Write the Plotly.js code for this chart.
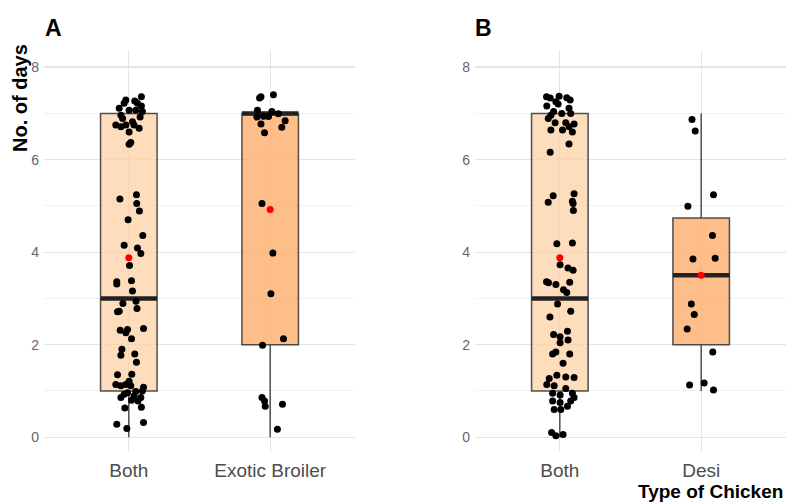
<!DOCTYPE html>
<html>
<head>
<meta charset="utf-8">
<script src="https://cdn.plot.ly/plotly-3.0.1.min.js"></script>
<style>html,body{margin:0;padding:0;background:#fff;}#chart{width:787px;height:504px;}</style>
</head>
<body>
<div id="chart"></div>
<script>
// ---------- DATA ----------
const catsA = ["Both", "Exotic Broiler"];
const catsB = ["Both", "Desi"];

// box statistics per category
const q1A = [1, 2], medA = [3, 7], q3A = [7, 7], loA = [0, 0], hiA = [7, 7], meanA = [3.88, 4.92];
const q1B = [1, 2], medB = [3, 3.5], q3B = [7, 4.74], loB = [0, 1], hiB = [7, 7], meanB = [3.88, 3.5];

const aBothY = [7.36,7.29,7.27,7.22,7.22,7.16,7.11,7.07,7.07,7.04,6.96,6.92,6.89,6.82,6.75,6.71,6.75,6.75,6.68,6.60,6.37,6.33,
  5.15,5.24,5.05,4.89,4.70,4.36,4.15,4.09,3.97,3.71,3.36,3.31,3.38,3.16,2.89,2.94,2.78,2.71,2.72,2.35,2.31,2.33,2.26,2.13,
  1.90,1.77,1.80,1.62,1.35,1.36,1.21,1.14,1.11,1.14,1.11,1.08,0.93,0.96,1.00,0.89,0.80,0.78,0.86,0.63,0.65,0.28,0.32,0.19,0.86,0.99];
const aBothJ = [0.089,-0.021,0.042,-0.033,0.061,0.089,-0.068,0.002,0.049,0.096,-0.056,0.080,-0.044,0.026,-0.092,-0.056,-0.021,0.037,0.073,0.002,0.014,0.002,
  -0.063,0.054,0.056,0.075,-0.005,0.099,-0.033,0.061,0.085,0.005,-0.085,-0.085,0.019,0.026,-0.042,0.051,0.058,-0.080,-0.068,0.104,-0.061,-0.009,-0.021,0.019,
  -0.049,-0.056,0.042,0.054,-0.080,0.021,0.002,-0.092,-0.056,-0.021,0.014,0.104,-0.033,-0.009,0.096,0.037,0.019,0.065,0.085,-0.028,0.089,-0.085,0.104,-0.014,-0.056,0.049];

const aExoY = [7.36,7.33,7.40,7.07,7.04,6.94,6.92,6.93,6.99,6.84,6.77,6.70,6.58,5.05,3.98,3.10,2.13,1.99,0.86,0.78,0.67,0.71,0.17];
const aExoJ = [-0.065,-0.075,0.023,-0.090,0.012,-0.047,-0.094,-0.012,0.058,0.106,-0.065,0.082,-0.040,-0.058,0.019,0.005,0.094,-0.054,-0.058,-0.040,-0.035,0.087,0.051];

const bBothY = [7.36,7.33,7.37,7.34,7.29,7.25,7.20,7.16,7.11,7.04,7.00,7.00,6.96,6.89,6.80,6.80,6.77,6.71,6.64,6.64,6.60,6.34,6.16,
  5.22,5.08,5.26,5.10,5.05,4.90,4.18,4.20,3.73,3.66,3.61,3.36,3.34,3.30,3.35,3.19,3.13,2.88,2.72,2.60,2.22,2.17,2.29,2.10,2.04,
  1.80,1.84,1.80,1.60,1.27,1.34,1.30,1.29,1.14,1.11,1.05,0.95,0.91,0.95,0.86,0.78,0.75,0.78,0.60,0.60,0.67,0.10,0.03,0.06];
const bBothJ = [-0.094,-0.068,-0.005,0.049,0.073,-0.028,-0.012,-0.092,0.065,-0.044,0.014,0.077,-0.063,-0.082,0.042,-0.033,0.101,0.065,-0.063,0.019,0.089,0.065,-0.068,
  -0.047,-0.082,0.101,0.089,0.094,0.096,-0.021,0.089,0.002,0.058,0.094,-0.094,-0.080,-0.028,0.070,0.026,0.049,-0.016,0.077,-0.070,-0.044,0.002,0.054,0.058,0.002,
  -0.051,-0.028,0.070,0.023,-0.075,-0.021,0.042,0.101,-0.092,-0.040,0.042,-0.051,0.002,0.089,0.101,-0.051,0.002,0.077,-0.040,0.007,0.054,-0.058,-0.028,0.023];

const bDesiY = [6.87,6.62,5.24,4.99,4.36,3.85,3.87,2.88,2.65,2.34,1.84,1.13,1.17,1.02];
const bDesiJ = [-0.065,-0.042,0.087,-0.094,0.080,-0.058,0.099,-0.070,-0.049,-0.099,0.082,-0.082,0.021,0.087];

// ---------- STYLE ----------
const fills = ["rgba(253,208,162,0.72)", "rgba(253,174,107,0.8)"];
const boxLine = "rgba(51,51,51,0.85)";
const halfW = 0.2;
const sans = "Liberation Sans, Arial, sans-serif";

const traces = [];
function addPanel(xa, ya, q1, med, q3, lo, hi, mean, pts) {
  for (let i = 0; i < q1.length; i++) {
    traces.push({
      type: "box", x: [i], q1: [q1[i]], median: [med[i]], q3: [q3[i]],
      lowerfence: [lo[i]], upperfence: [hi[i]], width: 2 * halfW, whiskerwidth: 0,
      fillcolor: fills[i], line: {color: boxLine, width: 1.5}, boxpoints: false,
      xaxis: xa, yaxis: ya, hoverinfo: "skip"
    });
    traces.push({
      type: "scatter", mode: "lines", x: [i - halfW, i + halfW], y: [med[i], med[i]],
      line: {color: "#222", width: 4.5}, xaxis: xa, yaxis: ya, hoverinfo: "skip"
    });
  }
  pts.forEach((p, i) => {
    traces.push({
      type: "scatter", mode: "markers", x: p.j.map(v => i + v), y: p.y,
      marker: {color: "#000", size: 7}, xaxis: xa, yaxis: ya, hoverinfo: "skip"
    });
  });
  traces.push({
    type: "scatter", mode: "markers", x: mean.map((v, i) => i), y: mean,
    marker: {color: "red", size: 7}, xaxis: xa, yaxis: ya, hoverinfo: "skip"
  });
}
addPanel("x", "y", q1A, medA, q3A, loA, hiA, meanA, [{y: aBothY, j: aBothJ}, {y: aExoY, j: aExoJ}]);
addPanel("x2", "y2", q1B, medB, q3B, loB, hiB, meanB, [{y: bBothY, j: bBothJ}, {y: bDesiY, j: bDesiJ}]);

const W = 787, H = 504;
const yDom = [1 - 452 / H, 1 - 50 / H];
function xax(dom, cats, anchor) {
  return {
    domain: dom, range: [-0.6, 1.6], tickvals: cats.map((c, i) => i), ticktext: cats,
    showgrid: true, gridcolor: "#e4e4e4", gridwidth: 1, zeroline: false, showline: false,
    ticks: "", ticklabelstandoff: 5, tickfont: {family: sans, size: 19, color: "#4d4d4d"}, anchor: anchor, fixedrange: true
  };
}
function yax(anchor) {
  return {
    domain: yDom, range: [-0.32, 8.37], tickvals: [0, 2, 4, 6, 8],
    showgrid: true, gridcolor: "#e4e4e4", gridwidth: 1.3, zeroline: false, showline: false,
    minor: {tickvals: [1, 3, 5, 7], showgrid: true, gridcolor: "#ececec", gridwidth: 0.8},
    ticks: "", ticklabelstandoff: 4, tickfont: {family: sans, size: 14, color: "#666"}, anchor: anchor, fixedrange: true
  };
}
const layout = {
  width: W, height: H, margin: {l: 0, r: 0, t: 0, b: 0},
  paper_bgcolor: "#fff", plot_bgcolor: "#fff", showlegend: false,
  xaxis: xax([44 / W, 355 / W], catsA, "y"),
  yaxis: yax("x"),
  xaxis2: xax([475 / W, 786 / W], catsB, "y2"),
  yaxis2: yax("x2"),
  annotations: [
    {text: "<b>A</b>", xref: "paper", yref: "paper", x: 43 / W, y: 1 - 28 / H, xanchor: "left", yanchor: "middle",
     showarrow: false, font: {family: sans, size: 23, color: "#000"}},
    {text: "<b>B</b>", xref: "paper", yref: "paper", x: 473 / W, y: 1 - 28 / H, xanchor: "left", yanchor: "middle",
     showarrow: false, font: {family: sans, size: 23, color: "#000"}},
    {text: "<b>No. of days</b>", xref: "paper", yref: "paper", x: 20 / W, y: 1 - 98 / H, xanchor: "center", yanchor: "middle",
     textangle: -90, showarrow: false, font: {family: sans, size: 20, color: "#000"}},
    {text: "<b>Type of Chicken</b>", xref: "paper", yref: "paper", x: 785 / W, y: 1 - 491 / H, xanchor: "right", yanchor: "middle",
     showarrow: false, font: {family: sans, size: 19, color: "#000"}}
  ]
};
Plotly.newPlot("chart", traces, layout, {staticPlot: true, displayModeBar: false});
</script>
</body>
</html>
